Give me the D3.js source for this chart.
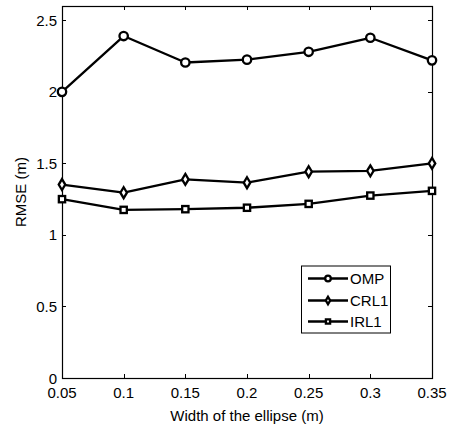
<!DOCTYPE html>
<html>
<head>
<meta charset="utf-8">
<script src="https://cdn.jsdelivr.net/npm/d3@7"></script>
<style>
  html, body { margin: 0; padding: 0; background: #fff; }
  svg { display: block; }
  text { font-family: "Liberation Sans", Arial, sans-serif; fill: #000; }
</style>
</head>
<body>
<svg id="chart" width="451" height="429"></svg>
<script>
// Ellipse widths (m)
const widths = [0.05, 0.1, 0.15, 0.2, 0.25, 0.3, 0.35];
// RMSE (m) for each method
const ompValues  = [2.00, 2.39, 2.205, 2.225, 2.28, 2.378, 2.22];
const crl1Values = [1.352, 1.295, 1.388, 1.365, 1.442, 1.448, 1.50];
const irl1Values = [1.25, 1.175, 1.18, 1.19, 1.217, 1.275, 1.308];
// Axis ticks
const xTicks = [0.05, 0.1, 0.15, 0.2, 0.25, 0.3, 0.35];
const yTicks = [0, 0.5, 1, 1.5, 2, 2.5];
const seriesNames = ["OMP", "CRL1", "IRL1"];
const seriesMarkers = ["circle", "diamond", "square"];

const svg = d3.select("#chart");
const plotL = 62, plotR = 432, plotT = 6, plotB = 378;

const x = d3.scaleLinear().domain([0.05, 0.35]).range([plotL, plotR]);
const y = d3.scaleLinear().domain([0, 2.6]).range([plotB, plotT]);

const fontSize = 15;
const lw = 2.3;

// Inward ticks on all four sides
const tickLen = 4;
const axes = svg.append("g").attr("stroke", "#000").attr("stroke-width", 1);
xTicks.forEach(t => {
  const px = Math.round(x(t)) + 0.5;
  axes.append("line").attr("x1", px).attr("x2", px).attr("y1", plotB).attr("y2", plotB - tickLen);
  axes.append("line").attr("x1", px).attr("x2", px).attr("y1", plotT).attr("y2", plotT + tickLen);
});
yTicks.forEach(t => {
  const py = Math.round(y(t)) + 0.5;
  axes.append("line").attr("x1", plotL).attr("x2", plotL + tickLen).attr("y1", py).attr("y2", py);
  axes.append("line").attr("x1", plotR).attr("x2", plotR - tickLen).attr("y1", py).attr("y2", py);
});
// Axes box
svg.append("rect")
  .attr("x", plotL + 0.5).attr("y", plotT + 0.5)
  .attr("width", plotR - plotL).attr("height", plotB - plotT)
  .attr("fill", "none").attr("stroke", "#000").attr("stroke-width", 1.2);

// Tick labels
svg.append("g").selectAll("text").data(xTicks).join("text")
  .attr("x", d => x(d)).attr("y", plotB + 20)
  .attr("text-anchor", "middle").attr("font-size", fontSize)
  .text(d => d3.format("")(d));
svg.append("g").selectAll("text").data(yTicks).join("text")
  .attr("x", plotL - 5).attr("y", d => y(d) + 5.5)
  .attr("text-anchor", "end").attr("font-size", fontSize)
  .text(d => d3.format("")(d));

// Axis titles
svg.append("text")
  .attr("x", (plotL + plotR) / 2).attr("y", 421)
  .attr("text-anchor", "middle").attr("font-size", fontSize)
  .text("Width of the ellipse (m)");
svg.append("text")
  .attr("transform", `translate(26,${(plotT + plotB) / 2}) rotate(-90)`)
  .attr("text-anchor", "middle").attr("font-size", fontSize)
  .text("RMSE (m)");

function marker(g, type, cx, cy, s) {
  if (type === "circle") {
    g.append("circle").attr("cx", cx).attr("cy", cy).attr("r", s)
      .attr("fill", "#fff").attr("stroke", "#000").attr("stroke-width", lw);
  } else if (type === "diamond") {
    const h = s * 1.3, w = s * 0.78;
    g.append("path")
      .attr("d", `M${cx},${cy - h}L${cx + w},${cy}L${cx},${cy + h}L${cx - w},${cy}Z`)
      .attr("fill", "#fff").attr("stroke", "#000").attr("stroke-width", lw);
  } else {
    g.append("rect").attr("x", cx - s * 0.75).attr("y", cy - s * 0.75)
      .attr("width", s * 1.5).attr("height", s * 1.5)
      .attr("fill", "#fff").attr("stroke", "#000").attr("stroke-width", lw);
  }
}

const line = d3.line().x(d => x(d[0])).y(d => y(d[1]));
const allSeries = [ompValues, crl1Values, irl1Values];
allSeries.forEach((vals, i) => {
  const pts = widths.map((w, j) => [w, vals[j]]);
  const g = svg.append("g");
  g.append("path").attr("d", line(pts))
    .attr("fill", "none").attr("stroke", "#000").attr("stroke-width", lw)
    .attr("stroke-linejoin", "round");
  pts.forEach(p => marker(g, seriesMarkers[i], x(p[0]), y(p[1]), 4.2));
});

// Legend
const lg = svg.append("g");
lg.append("rect").attr("x", 301.5).attr("y", 266).attr("width", 89).attr("height", 67)
  .attr("fill", "#fff").attr("stroke", "#000").attr("stroke-width", 1);
const rowY = [278.5, 300.5, 321.5];
seriesNames.forEach((name, i) => {
  lg.append("line").attr("x1", 308).attr("x2", 348).attr("y1", rowY[i]).attr("y2", rowY[i])
    .attr("stroke", "#000").attr("stroke-width", lw);
  marker(lg, seriesMarkers[i], 328, rowY[i], 2.8);
  lg.append("text").attr("x", 350).attr("y", rowY[i] + 5.5)
    .attr("font-size", fontSize).text(name);
});
</script>
</body>
</html>
